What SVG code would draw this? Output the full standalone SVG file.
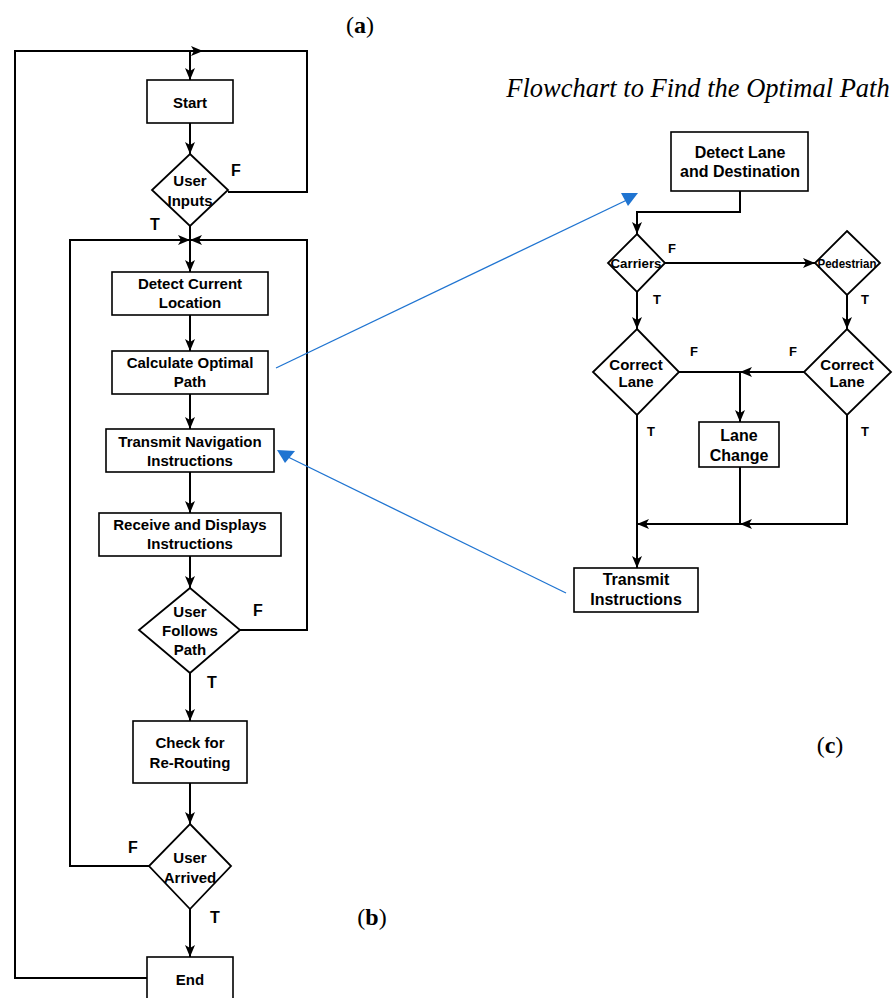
<svg xmlns="http://www.w3.org/2000/svg" width="896" height="998" viewBox="0 0 896 998">
<style>
.box{fill:#fff;stroke:#000;stroke-width:1.6}
.dia{fill:#fff;stroke:#000;stroke-width:1.8}
.c{fill:none;stroke:#000;stroke-width:2}
.ca{fill:none;stroke:#000;stroke-width:2;marker-end:url(#ah)}
.t{font-family:"Liberation Sans",Arial,sans-serif;font-weight:bold;font-size:15px;fill:#000;text-anchor:middle;dominant-baseline:central}
.tr{font-size:16px}
.ts{font-size:13.5px}
.tl{font-family:"Liberation Sans",Arial,sans-serif;font-weight:bold;font-size:16px;fill:#000;text-anchor:middle;dominant-baseline:central}
.tls{font-size:13px}
.cap{font-family:"Liberation Serif","Times New Roman",serif;font-size:24px;fill:#000;text-anchor:middle;dominant-baseline:central}
.title{font-style:italic;font-size:26.5px}
.blue{fill:none;stroke:#1f74d1;stroke-width:1.3}
</style>
<defs>
<marker id="ah" markerUnits="userSpaceOnUse" markerWidth="12" markerHeight="12" viewBox="0 0 12 12" refX="12" refY="6" orient="auto">
<path d="M0,1 L12,6 L0,11 L3,6 Z" fill="#000"/>
</marker>
</defs>
<rect width="896" height="998" fill="#fff"/>

<text class="cap" x="360" y="25">(<tspan font-weight="bold">a</tspan>)</text>
<text class="cap" x="372" y="917">(<tspan font-weight="bold">b</tspan>)</text>
<text class="cap" x="830" y="745">(<tspan font-weight="bold">c</tspan>)</text>
<text class="cap title" x="698" y="88">Flowchart to Find the Optimal Path</text>

<g id="connectors">
<path class="ca" d="M147,978 H15 V51 H203"/>
<path class="c" d="M228,192 H307 V51 H190"/>
<path class="ca" d="M190,51 V80"/>
<path class="ca" d="M190,123 V154"/>
<path class="ca" d="M190,226 V272"/>
<path class="ca" d="M149,866 H70 V240 H190"/>
<path class="ca" d="M240,630 H307 V240 H190"/>
<path class="ca" d="M190,315 V351"/>
<path class="ca" d="M190,394 V429"/>
<path class="ca" d="M190,472 V513"/>
<path class="ca" d="M190,556 V588"/>
<path class="ca" d="M190,673 V721"/>
<path class="ca" d="M190,783 V824"/>
<path class="ca" d="M190,909 V957"/>

<path class="ca" d="M740,191 V212 H637 V234"/>
<path class="ca" d="M665,263 H815"/>
<path class="ca" d="M637,292 V329"/>
<path class="ca" d="M847,295 V329"/>
<path class="ca" d="M804,372 H740"/>
<path class="c" d="M679,372 H740"/>
<path class="ca" d="M740,372 V422"/>
<path class="ca" d="M637,415 V568"/>
<path class="ca" d="M847,415 V524 H740"/>
<path class="ca" d="M740,467 V524 H637"/>

<path class="blue" d="M276,368 L629,199"/>
<polygon points="621,193 638,193 628,206" fill="#1f74d1"/>
<path class="blue" d="M566,593 L288,457"/>
<polygon points="277,450 295,451 285,463" fill="#1f74d1"/>
</g>

<g id="start"><rect class="box" x="147" y="80" width="86" height="43"/><text class="t" x="190" y="102">Start</text></g>
<g id="user-inputs"><polygon class="dia" points="190,154 228,190 190,226 152,190"/><text class="t" x="190" y="180">User</text><text class="t" x="190" y="200">Inputs</text></g>
<g id="detect-current"><rect class="box" x="112" y="272" width="156" height="43"/><text class="t" x="190" y="283">Detect Current</text><text class="t" x="190" y="302">Location</text></g>
<g id="calc-path"><rect class="box" x="112" y="351" width="156" height="43"/><text class="t" x="190" y="362">Calculate Optimal</text><text class="t" x="190" y="381">Path</text></g>
<g id="transmit-nav"><rect class="box" x="106" y="429" width="168" height="43"/><text class="t" x="190" y="441">Transmit Navigation</text><text class="t" x="190" y="460">Instructions</text></g>
<g id="receive"><rect class="box" x="99" y="513" width="182" height="43"/><text class="t" x="190" y="524">Receive and Displays</text><text class="t" x="190" y="543">Instructions</text></g>
<g id="user-follows"><polygon class="dia" points="190,588 240,630 190,673 139,630"/><text class="t" x="190" y="611">User</text><text class="t" x="190" y="630">Follows</text><text class="t" x="190" y="649">Path</text></g>
<g id="check-reroute"><rect class="box" x="133" y="721" width="114" height="62"/><text class="t" x="190" y="742">Check for</text><text class="t" x="190" y="762">Re-Routing</text></g>
<g id="user-arrived"><polygon class="dia" points="190,824 231,866 190,909 149,866"/><text class="t" x="190" y="857">User</text><text class="t" x="190" y="877">Arrived</text></g>
<g id="end"><rect class="box" x="147" y="957" width="86" height="50"/><text class="t" x="190" y="979">End</text></g>

<g id="labels-left">
<text class="tl" x="236" y="170">F</text>
<text class="tl" x="155" y="224">T</text>
<text class="tl" x="258" y="610">F</text>
<text class="tl" x="212" y="682">T</text>
<text class="tl" x="133" y="847">F</text>
<text class="tl" x="215" y="917">T</text>
</g>

<g id="detect-lane"><rect class="box" x="671" y="132" width="137" height="59"/><text class="t tr" x="740" y="152">Detect Lane</text><text class="t tr" x="740" y="171">and Destination</text></g>
<g id="carriers"><polygon class="dia" points="637,234 665,263 637,292 608,263"/><text class="t ts" x="636" y="263" textLength="51" lengthAdjust="spacingAndGlyphs">Carriers</text></g>
<g id="pedestrian"><polygon class="dia" points="847,231 880,263 847,295 815,263"/><text class="t ts" x="847" y="263" textLength="59" lengthAdjust="spacingAndGlyphs">Pedestrian</text></g>
<g id="correct-lane-1"><polygon class="dia" points="637,329 679,372 637,415 593,372"/><text class="t" x="636" y="364">Correct</text><text class="t" x="636" y="381">Lane</text></g>
<g id="correct-lane-2"><polygon class="dia" points="847,329 891,372 847,415 804,372"/><text class="t" x="847" y="364">Correct</text><text class="t" x="847" y="381">Lane</text></g>
<g id="lane-change"><rect class="box" x="699" y="422" width="80" height="45"/><text class="t tr" x="739" y="435">Lane</text><text class="t tr" x="739" y="455">Change</text></g>
<g id="transmit-instr"><rect class="box" x="574" y="568" width="124" height="44"/><text class="t tr" x="636" y="579">Transmit</text><text class="t tr" x="636" y="599">Instructions</text></g>

<g id="labels-right">
<text class="tl tls" x="672" y="248">F</text>
<text class="tl tls" x="657" y="299">T</text>
<text class="tl tls" x="865" y="299">T</text>
<text class="tl tls" x="694" y="351">F</text>
<text class="tl tls" x="793" y="351">F</text>
<text class="tl tls" x="651" y="431">T</text>
<text class="tl tls" x="865" y="431">T</text>
</g>
</svg>
